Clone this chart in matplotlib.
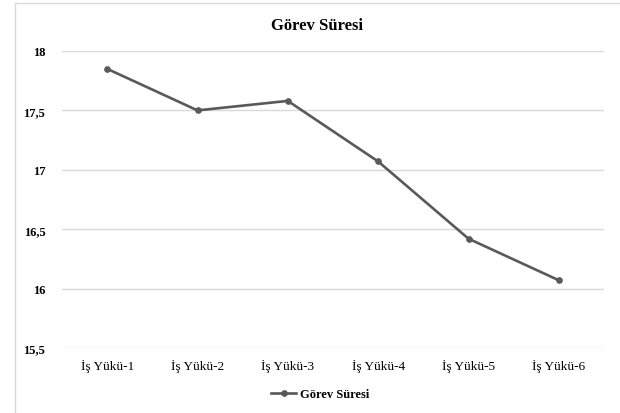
import matplotlib; matplotlib.use('Agg')
import matplotlib.pyplot as plt
from matplotlib.patches import Rectangle

categories = ['İş Yükü-1', 'İş Yükü-2', 'İş Yükü-3', 'İş Yükü-4', 'İş Yükü-5', 'İş Yükü-6']
gorev_suresi = [17.85, 17.50, 17.58, 17.07, 16.42, 16.07]
yticks = [15.5, 16, 16.5, 17, 17.5, 18]
ytick_labels = ['15,5', '16', '16,5', '17', '17,5', '18']

plt.rcParams['font.family'] = ['Liberation Serif', 'DejaVu Serif']
GRID = '#d9d9d9'; LINE = '#595959'

fig = plt.figure(figsize=(6.2, 4.14), dpi=100)
# chart frame
fig.patches.append(Rectangle((15/620, -0.1), 1.0, 1.1 - 4/414, transform=fig.transFigure,
                             fill=False, edgecolor=GRID, lw=1.0))
ax = fig.add_axes([62/620, 1 - 349/414, (604 - 62)/620, (349 - 52)/414])

x = range(len(categories))
ax.plot(x, gorev_suresi, color=LINE, lw=1.9, marker='o', ms=3.8, label='Görev Süresi')
ax.set_xlim(-0.5, len(categories) - 0.5)
ax.set_ylim(15.5, 18)
ax.set_yticks(yticks)
ax.set_yticklabels(ytick_labels, fontweight='bold', fontsize=9)
ax.set_xticks(list(x))
ax.set_xticklabels(categories, fontsize=9.5)
ax.tick_params(length=0, pad=12)
ax.tick_params(axis='x', pad=8)
ax.grid(axis='y', color=GRID, lw=1.0)
ax.set_axisbelow(True)
for s in ax.spines.values(): s.set_visible(False)

fig.text(317/620, 1 - 26/414, 'Görev Süresi', ha='center', va='center',
         fontsize=12, fontweight='bold')
fig.legend(loc='center', bbox_to_anchor=(320/620, 1 - 395/414), frameon=False,
           prop={'weight': 'bold', 'size': 9}, handlelength=2.0, handletextpad=0.3)

fig.savefig('out.png', dpi=100)
